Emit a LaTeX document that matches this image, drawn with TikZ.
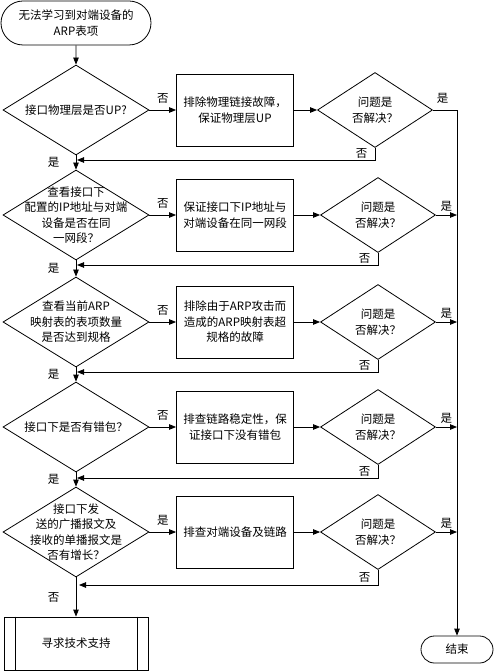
\documentclass[tikz,border=0pt]{standalone}
\usepackage{fontspec}
\setmainfont{Noto Sans CJK SC}
\usetikzlibrary{shapes.geometric, shapes.misc, arrows.meta}

\begin{document}
\begin{tikzpicture}[x=1pt, y=-1pt, line width=0.8pt,
    every node/.style={font=\fontsize{11.5}{15.5}\selectfont},
    >={Triangle[length=7pt, width=5.5pt]},
    terminal/.style={draw, rounded rectangle, minimum width=150pt, minimum height=44pt, align=center, inner sep=0pt},
    decision/.style={draw, diamond, minimum width=146pt, minimum height=90pt, inner sep=0pt},
    check/.style={draw, diamond, minimum width=115pt, minimum height=75pt, inner sep=0pt},
    action/.style={draw, minimum width=117pt, minimum height=72pt, align=center, inner sep=0pt},
    dtext/.style={align=center}]
    \useasboundingbox (0,0) rectangle (494,671);

    \node[terminal] (start) at (76,23) {无法学习到对端设备的\\ARP表项};

    \node[decision, label={[dtext]center:接口物理层是否UP?}] (d1) at (76,110) {};
    \node[action] (b1) at (235,110) {排除物理链接故障，\\保证物理层UP};
    \node[check, label={[dtext]center:问题是\\否解决？}] (s1) at (375,110) {};

    \node[decision, label={[dtext]center:查看接口下\\配置的IP地址与对端\\设备是否在同\\一网段？}] (d2) at (76,215) {};
    \node[action] (b2) at (235,215) {保证接口下IP地址与\\对端设备在同一网段};
    \node[check, label={[dtext]center:问题是\\否解决？}] (s2) at (378,215) {};

    \node[decision, label={[dtext]center:查看当前ARP\\映射表的表项数量\\是否达到规格}] (d3) at (76,322) {};
    \node[action] (b3) at (235,322) {排除由于ARP攻击而\\造成的ARP映射表超\\规格的故障};
    \node[check, label={[dtext]center:问题是\\否解决？}] (s3) at (378,322) {};

    \node[decision, label={[dtext]center:接口下是否有错包？}] (d4) at (76,427) {};
    \node[action] (b4) at (235,427) {排查链路稳定性，保\\证接口下没有错包};
    \node[check, label={[dtext]center:问题是\\否解决？}] (s4) at (378,427) {};

    \node[decision, label={[dtext]center:接口下发\\送的广播报文及\\接收的单播报文是\\否有增长？}] (d5) at (76,532) {};
    \node[action] (b5) at (235,532) {排查对端设备及链路};
    \node[check, label={[dtext]center:问题是\\否解决？}] (s5) at (378,532) {};

    \node[draw, minimum width=144pt, minimum height=53pt] (help) at (76,643.5) {寻求技术支持};
    \draw ([xshift=12pt]help.north west) -- ([xshift=12pt]help.south west);
    \draw ([xshift=-11pt]help.north east) -- ([xshift=-11pt]help.south east);

    \node[terminal, minimum width=72pt, minimum height=27pt] (stop) at (457,649.5) {结束};

    \coordinate (j1) at (77,160);
    \coordinate (j2) at (77,265);
    \coordinate (j3) at (77,372);
    \coordinate (j4) at (77,478);
    \coordinate (j5) at (79,585);

    \draw[->] (start) -- (d1);
    \draw[->] (d1) -- (b1) node[midway, above=3pt] {否};
    \draw[->] (b1) -- (s1);
    \draw[->] (s1.east) -| (stop.north) node[pos=0.2, above=3pt] {是};
    \draw[->] (s1.south) |- (j1) node[pos=0.25, left=4pt] {否};
    \draw[->] (d1) -- (d2) node[midway, left=13pt] {是};

    \draw[->] (d2) -- (b2) node[midway, above=3pt] {否};
    \draw[->] (b2) -- (s2);
    \draw[->] (s2.east) -- (s2.east -| stop.north) node[midway, above] {是};
    \draw[->] (s2.south) |- (j2) node[pos=0.25, left=4pt] {否};
    \draw[->] (d2) -- (d3) node[midway, left=13pt] {是};

    \draw[->] (d3) -- (b3) node[midway, above=3pt] {否};
    \draw[->] (b3) -- (s3);
    \draw[->] (s3.east) -- (s3.east -| stop.north) node[midway, above] {是};
    \draw[->] (s3.south) |- (j3) node[pos=0.25, left=4pt] {否};
    \draw[->] (d3) -- (d4) node[midway, left=13pt] {是};

    \draw[->] (d4) -- (b4) node[midway, above=3pt] {否};
    \draw[->] (b4) -- (s4);
    \draw[->] (s4.east) -- (s4.east -| stop.north) node[midway, above] {是};
    \draw[->] (s4.south) |- (j4) node[pos=0.25, left=4pt] {否};
    \draw[->] (d4) -- (d5) node[midway, left=13pt] {是};

    \draw[->] (d5) -- (b5) node[midway, above=3pt] {是};
    \draw[->] (b5) -- (s5);
    \draw[->] (s5.east) -- (s5.east -| stop.north) node[midway, above] {是};
    \draw[->] (s5.south) |- (j5) node[pos=0.25, left=4pt] {否};
    \draw[->] (d5) -- (help) node[midway, left=13pt] {否};
\end{tikzpicture}
\end{document}
